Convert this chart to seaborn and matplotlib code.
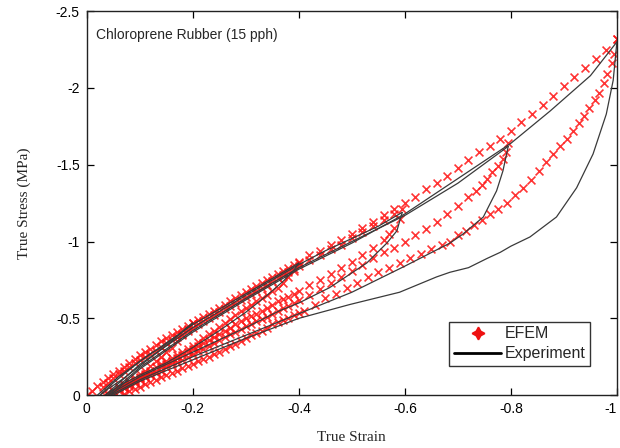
import numpy as np
import pandas as pd
import matplotlib
matplotlib.use("Agg")
import matplotlib.pyplot as plt
from matplotlib.lines import Line2D
import seaborn as sns

# ---------------- data (magnitudes; plotted as negative, compression) ----------------
# EFEM: primary loading envelope
efem_load_strain = [0.00, 0.01, 0.02, 0.03, 0.04, 0.05, 0.06, 0.07, 0.08, 0.09, 0.10, 0.11, 0.12, 0.13,
                    0.14, 0.15, 0.16, 0.17, 0.18, 0.19, 0.20, 0.21, 0.22, 0.23, 0.24, 0.25, 0.26, 0.27,
                    0.28, 0.29, 0.30, 0.31, 0.32, 0.33, 0.34, 0.35, 0.36, 0.37, 0.38, 0.39, 0.40,
                    0.42, 0.44, 0.46, 0.48, 0.50, 0.52, 0.54, 0.56, 0.58, 0.60, 0.62, 0.64, 0.66,
                    0.68, 0.70, 0.72, 0.74, 0.76, 0.78, 0.80, 0.82, 0.84, 0.86, 0.88, 0.90, 0.92,
                    0.94, 0.96, 0.98, 1.00]
efem_load_stress = [0.00, 0.03, 0.06, 0.085, 0.11, 0.135, 0.16, 0.185, 0.21, 0.235, 0.26, 0.28, 0.30, 0.325,
                    0.35, 0.37, 0.39, 0.41, 0.43, 0.45, 0.47, 0.49, 0.51, 0.53, 0.55, 0.57, 0.59, 0.61,
                    0.63, 0.65, 0.67, 0.69, 0.71, 0.73, 0.75, 0.77, 0.79, 0.81, 0.83, 0.85, 0.87,
                    0.91, 0.94, 0.98, 1.01, 1.05, 1.09, 1.13, 1.17, 1.21, 1.25, 1.29, 1.34, 1.38,
                    1.43, 1.48, 1.53, 1.58, 1.62, 1.67, 1.72, 1.78, 1.83, 1.89, 1.95, 2.01, 2.07,
                    2.13, 2.19, 2.25, 2.32]
# EFEM: reloading track (slightly below the envelope)
efem_reload_strain = [0.03, 0.04, 0.05, 0.06, 0.07, 0.08, 0.09, 0.10, 0.11, 0.12, 0.13, 0.14, 0.15, 0.16,
                      0.17, 0.18, 0.19, 0.20, 0.21, 0.22, 0.23, 0.24, 0.25, 0.26, 0.27, 0.28, 0.29, 0.30,
                      0.31, 0.32, 0.33, 0.34, 0.35, 0.36, 0.37, 0.38, 0.39, 0.40, 0.42, 0.44, 0.46, 0.48,
                      0.50, 0.52, 0.54, 0.56, 0.58]
efem_reload_stress = [0.05, 0.08, 0.11, 0.135, 0.16, 0.185, 0.21, 0.23, 0.25, 0.27, 0.29, 0.315, 0.34, 0.36,
                      0.38, 0.40, 0.42, 0.44, 0.46, 0.48, 0.50, 0.52, 0.54, 0.56, 0.58, 0.60, 0.62, 0.64,
                      0.66, 0.68, 0.70, 0.72, 0.74, 0.76, 0.78, 0.80, 0.82, 0.84, 0.88, 0.91, 0.95, 0.98,
                      1.02, 1.06, 1.10, 1.14, 1.18]
# EFEM: unloading branches
efem_un1_strain = [0.20, 0.19, 0.18, 0.17, 0.16, 0.15, 0.14, 0.13, 0.12, 0.11, 0.10, 0.09, 0.08, 0.07,
                   0.06, 0.05, 0.04, 0.035]
efem_un1_stress = [0.47, 0.43, 0.39, 0.35, 0.31, 0.28, 0.25, 0.22, 0.19, 0.16, 0.14, 0.11, 0.09, 0.07,
                   0.05, 0.03, 0.01, 0.00]
efem_un2_strain = [0.40, 0.39, 0.38, 0.37, 0.36, 0.35, 0.34, 0.33, 0.32, 0.31, 0.30, 0.29, 0.28, 0.27,
                   0.26, 0.25, 0.24, 0.23, 0.22, 0.21, 0.20, 0.19, 0.18, 0.17, 0.16, 0.15, 0.14, 0.13,
                   0.12, 0.11, 0.10, 0.09, 0.08, 0.07, 0.06, 0.05, 0.04]
efem_un2_stress = [0.86, 0.81, 0.77, 0.73, 0.70, 0.675, 0.65, 0.63, 0.61, 0.59, 0.57, 0.545, 0.52, 0.495,
                   0.47, 0.445, 0.42, 0.395, 0.37, 0.345, 0.32, 0.30, 0.28, 0.26, 0.24, 0.22, 0.20, 0.18,
                   0.16, 0.14, 0.12, 0.10, 0.08, 0.065, 0.05, 0.03, 0.00]
efem_un3_strain = [0.595, 0.59, 0.58, 0.57, 0.56, 0.54, 0.52, 0.50, 0.48, 0.46, 0.44, 0.42, 0.40, 0.39,
                   0.38, 0.37, 0.36, 0.35, 0.34, 0.33, 0.32, 0.31, 0.30, 0.29, 0.28, 0.27, 0.26, 0.25,
                   0.24, 0.23, 0.22, 0.21, 0.20, 0.19, 0.18, 0.17, 0.16, 0.15, 0.14, 0.13, 0.12, 0.11,
                   0.10, 0.09, 0.08, 0.07, 0.06, 0.05]
efem_un3_stress = [1.21, 1.15, 1.09, 1.05, 1.01, 0.96, 0.91, 0.87, 0.83, 0.79, 0.75, 0.72, 0.68, 0.66,
                   0.64, 0.625, 0.61, 0.59, 0.57, 0.55, 0.53, 0.515, 0.50, 0.48, 0.46, 0.44, 0.42, 0.40,
                   0.38, 0.36, 0.34, 0.32, 0.30, 0.28, 0.26, 0.24, 0.22, 0.20, 0.18, 0.16, 0.14, 0.125,
                   0.11, 0.09, 0.07, 0.055, 0.04, 0.01]
efem_un4_strain = [0.795, 0.79, 0.785, 0.775, 0.765, 0.755, 0.745, 0.735, 0.72, 0.70, 0.68, 0.66, 0.64,
                   0.62, 0.60, 0.58, 0.56, 0.54, 0.52, 0.50, 0.48, 0.46, 0.44, 0.42, 0.40, 0.39, 0.38,
                   0.37, 0.36, 0.35, 0.34, 0.33, 0.32, 0.31, 0.30, 0.29, 0.28, 0.27, 0.26, 0.25, 0.24,
                   0.23, 0.22, 0.21, 0.20, 0.19, 0.18, 0.17, 0.16, 0.15, 0.14, 0.13, 0.12, 0.11, 0.10,
                   0.09, 0.08, 0.07, 0.06, 0.05]
efem_un4_stress = [1.64, 1.58, 1.54, 1.49, 1.45, 1.41, 1.37, 1.33, 1.29, 1.23, 1.18, 1.13, 1.08,
                   1.04, 1.00, 0.96, 0.93, 0.89, 0.85, 0.81, 0.77, 0.73, 0.69, 0.65, 0.62, 0.60, 0.58,
                   0.565, 0.55, 0.53, 0.51, 0.495, 0.48, 0.465, 0.45, 0.43, 0.41, 0.395, 0.38, 0.36, 0.34,
                   0.32, 0.30, 0.285, 0.27, 0.25, 0.23, 0.215, 0.20, 0.18, 0.16, 0.145, 0.13, 0.115, 0.10,
                   0.08, 0.06, 0.045, 0.03, 0.01]
efem_un5_strain = [1.00, 0.995, 0.99, 0.982, 0.975, 0.967, 0.958, 0.948, 0.938, 0.928, 0.918, 0.906,
                   0.893, 0.88, 0.867, 0.853, 0.838, 0.823, 0.808, 0.792, 0.776, 0.76, 0.745, 0.73,
                   0.715, 0.70, 0.685, 0.67, 0.65, 0.63, 0.61, 0.59, 0.57, 0.55, 0.53, 0.51, 0.49,
                   0.47, 0.45, 0.43, 0.41, 0.40, 0.39, 0.38, 0.37, 0.36, 0.35, 0.34, 0.33, 0.32, 0.31,
                   0.30, 0.29, 0.28, 0.27, 0.26, 0.25, 0.24, 0.23, 0.22, 0.21, 0.20, 0.19, 0.18, 0.17,
                   0.16, 0.15, 0.14, 0.13, 0.12, 0.11, 0.10, 0.09, 0.08, 0.07]
efem_un5_stress = [2.32, 2.22, 2.16, 2.09, 2.03, 1.97, 1.92, 1.87, 1.82, 1.77, 1.72, 1.67,
                   1.62, 1.57, 1.52, 1.46, 1.40, 1.35, 1.30, 1.25, 1.21, 1.18, 1.14, 1.11,
                   1.07, 1.04, 1.00, 0.98, 0.95, 0.92, 0.89, 0.86, 0.83, 0.80, 0.77, 0.73, 0.70,
                   0.66, 0.63, 0.59, 0.55, 0.535, 0.52, 0.505, 0.49, 0.475, 0.46, 0.44, 0.42, 0.405, 0.39,
                   0.37, 0.35, 0.335, 0.32, 0.30, 0.28, 0.265, 0.25, 0.235, 0.22, 0.205, 0.19, 0.175, 0.16,
                   0.145, 0.13, 0.115, 0.10, 0.085, 0.07, 0.055, 0.04, 0.025, 0.01]

# Experiment: loading / unloading / reloading curves
exp_load_strain = [0.02, 0.04, 0.06, 0.08, 0.10, 0.12, 0.14, 0.16, 0.18, 0.20]
exp_load_stress = [0.00, 0.06, 0.12, 0.17, 0.22, 0.27, 0.31, 0.36, 0.41, 0.47]
exp_un1_strain = [0.20, 0.185, 0.16, 0.13, 0.10, 0.07, 0.04, 0.025]
exp_un1_stress = [0.47, 0.43, 0.35, 0.27, 0.19, 0.11, 0.04, 0.00]
exp_re1_strain = [0.025, 0.05, 0.10, 0.15, 0.20, 0.25, 0.30, 0.35, 0.40]
exp_re1_stress = [0.00, 0.08, 0.22, 0.34, 0.46, 0.56, 0.66, 0.76, 0.86]
exp_un2_strain = [0.40, 0.39, 0.37, 0.34, 0.30, 0.25, 0.20, 0.15, 0.10, 0.06, 0.035]
exp_un2_stress = [0.86, 0.81, 0.74, 0.65, 0.54, 0.42, 0.31, 0.21, 0.13, 0.06, 0.00]
exp_re2_strain = [0.035, 0.10, 0.20, 0.30, 0.40, 0.45, 0.50, 0.55, 0.595]
exp_re2_stress = [0.00, 0.20, 0.44, 0.65, 0.85, 0.94, 1.02, 1.10, 1.19]
exp_un3_strain = [0.595, 0.585, 0.566, 0.528, 0.458, 0.40, 0.364, 0.30, 0.20, 0.10, 0.04]
exp_un3_stress = [1.19, 1.07, 0.99, 0.86, 0.70, 0.60, 0.55, 0.44, 0.28, 0.12, 0.00]
exp_re3_strain = [0.04, 0.10, 0.20, 0.30, 0.40, 0.50, 0.60, 0.70, 0.795]
exp_re3_stress = [0.00, 0.18, 0.42, 0.63, 0.83, 1.00, 1.17, 1.38, 1.62]
exp_un4_strain = [0.795, 0.785, 0.773, 0.748, 0.71, 0.685, 0.60, 0.50, 0.40, 0.30, 0.20, 0.10, 0.045]
exp_un4_stress = [1.62, 1.46, 1.33, 1.16, 1.05, 0.99, 0.84, 0.67, 0.53, 0.39, 0.25, 0.10, 0.00]
exp_re4_strain = [0.045, 0.10, 0.20, 0.30, 0.40, 0.50, 0.60, 0.70, 0.80, 0.874, 0.95, 1.00]
exp_re4_stress = [0.00, 0.17, 0.41, 0.62, 0.82, 0.99, 1.18, 1.41, 1.64, 1.85, 2.08, 2.30]
exp_un5_strain = [1.00, 0.993, 0.98, 0.955, 0.924, 0.886, 0.836, 0.80, 0.78, 0.755, 0.72, 0.685,
                  0.66, 0.59, 0.496, 0.40, 0.30, 0.20, 0.10, 0.05]
exp_un5_stress = [2.30, 2.05, 1.83, 1.57, 1.35, 1.16, 1.03, 0.97, 0.93, 0.89, 0.83, 0.80,
                  0.77, 0.67, 0.59, 0.50, 0.37, 0.23, 0.09, 0.00]

x_ticks = [0, -0.2, -0.4, -0.6, -0.8, -1]
x_tick_labels = ["0", "-0.2", "-0.4", "-0.6", "-0.8", "-1"]
y_ticks = [0, -0.5, -1, -1.5, -2, -2.5]
y_tick_labels = ["0", "-0.5", "-1", "-1.5", "-2", "-2.5"]

# ---------------- build tables ----------------
efem_branches = [
    ("load", efem_load_strain, efem_load_stress),
    ("reload", efem_reload_strain, efem_reload_stress),
    ("u1", efem_un1_strain, efem_un1_stress),
    ("u2", efem_un2_strain, efem_un2_stress),
    ("u3", efem_un3_strain, efem_un3_stress),
    ("u4", efem_un4_strain, efem_un4_stress),
    ("u5", efem_un5_strain, efem_un5_stress),
]
exp_branches = [
    ("load", exp_load_strain, exp_load_stress),
    ("u1", exp_un1_strain, exp_un1_stress),
    ("r1", exp_re1_strain, exp_re1_stress),
    ("u2", exp_un2_strain, exp_un2_stress),
    ("r2", exp_re2_strain, exp_re2_stress),
    ("u3", exp_un3_strain, exp_un3_stress),
    ("r3", exp_re3_strain, exp_re3_stress),
    ("u4", exp_un4_strain, exp_un4_stress),
    ("r4", exp_re4_strain, exp_re4_stress),
    ("u5", exp_un5_strain, exp_un5_stress),
]

def to_df(branches):
    frames = []
    for name, s, v in branches:
        frames.append(pd.DataFrame({"seg": name,
                                    "strain": -np.asarray(s, float),
                                    "stress": -np.asarray(v, float)}))
    return pd.concat(frames, ignore_index=True)

efem_df = to_df(efem_branches)
exp_df = to_df(exp_branches)

# ---------------- plot ----------------
sns.set_style("ticks")
plt.rcParams["font.family"] = ["Liberation Sans", "DejaVu Sans"]

fig = plt.figure(figsize=(6.2, 4.48), dpi=100)
ax = fig.add_axes([0.140, 0.118, 0.855, 0.857])

sns.scatterplot(data=efem_df, x="strain", y="stress", ax=ax, marker="x", s=32,
                color="#ff1010", linewidth=1.2, alpha=0.85, legend=False, zorder=2)
sns.lineplot(data=exp_df, x="strain", y="stress", units="seg", estimator=None, sort=False,
             ax=ax, color="#3a3a3a", linewidth=0.9, legend=False, zorder=3)

ax.set_xlim(0, -1)
ax.set_ylim(0, -2.5)
ax.set_xticks(x_ticks)
ax.set_xticklabels(x_tick_labels)
ax.set_yticks(y_ticks)
ax.set_yticklabels(y_tick_labels)
ax.tick_params(direction="in", length=5, width=0.9, top=True, right=True,
               labelsize=10, colors="black", pad=5)
ax.get_xticklabels()[-1].set_horizontalalignment("right")
for sp in ax.spines.values():
    sp.set_visible(True)
    sp.set_color("#222222")
    sp.set_linewidth(1.0)

ax.set_xlabel("True Strain", family=["Liberation Serif", "DejaVu Serif"], fontsize=11, labelpad=11)
ax.set_ylabel("True Stress (MPa)", family=["Liberation Serif", "DejaVu Serif"], fontsize=11, labelpad=18)

ax.text(0.018, 0.955, "Chloroprene Rubber (15 pph)", transform=ax.transAxes,
        fontsize=10, ha="left", va="top")

handles = [Line2D([], [], linestyle="none", marker=(4, 1, 0), markersize=9,
                  color="#ee1111", markeredgewidth=1.2),
           Line2D([], [], color="black", linewidth=2)]
leg = ax.legend(handles, ["EFEM", "Experiment"], loc="lower right",
                bbox_to_anchor=(0.965, 0.055), frameon=True, fancybox=False,
                edgecolor="black", fontsize=11.5, handlelength=3.0,
                borderpad=0.3, labelspacing=0.3, handletextpad=0.2)
leg.get_frame().set_linewidth(1.0)

fig.savefig("out.png", dpi=100)
